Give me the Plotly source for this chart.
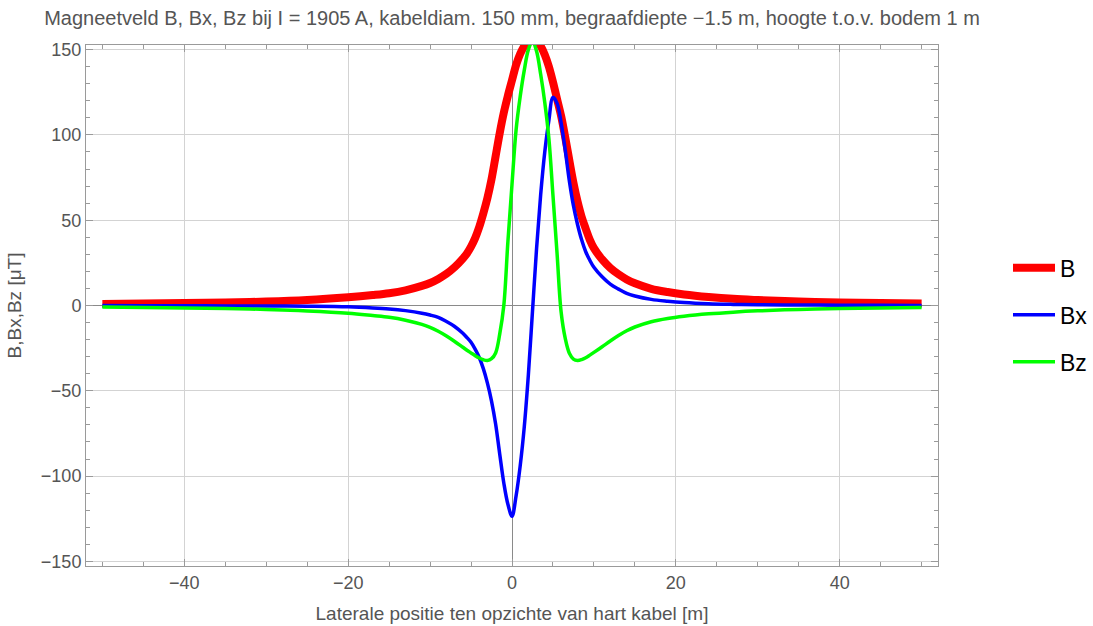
import plotly.graph_objects as go

# Lateral position [m]
x = [-50, -45, -40, -35, -30, -25, -20, -17, -15, -13, -11, -10, -9, -8, -7, -6, -5.5, -5, -4.5, -4,
     -3.5, -3, -2.5, -2, -1.5, -1, -0.5, 0, 0.5, 1, 1.5, 2, 2.5, 3, 3.5, 4, 4.5, 5, 5.5, 6,
     6.5, 7, 7.5, 8, 8.5, 9, 9.5, 10, 11, 12, 13, 14, 15, 17, 19, 21, 24, 27, 30, 35,
     40, 45, 50]

# Field magnitude B [uT]
B = [0.95, 1.15, 1.4, 1.8, 2.3, 3.2, 4.8, 6.1, 7.2, 8.9, 11.5, 13.2, 15.6, 18.6, 22.5, 27.5, 30.5, 34.5, 39.5, 46,
     54, 63, 74, 87.5, 101, 113, 123, 132, 141, 147.5, 152, 154.5, 155, 154.5, 152, 147, 140, 131, 121, 111,
     98.5, 85, 72, 61, 52, 45, 38.5, 33.6, 27, 22, 18.3, 15.3, 13, 9.8, 7.9, 6.5, 5.0, 3.9, 3.2, 2.3,
     1.8, 1.4, 1.15]

# Horizontal component Bx [uT]
Bx = [-0.05, -0.08, -0.15, -0.22, -0.3, -0.45, -0.8, -1.4, -2.0, -3.0, -4.5, -5.6, -7.0, -9.4, -12.3, -16.3, -18.8, -21.6, -25.6, -30.5,
      -37, -45.5, -56, -69.5, -87, -104, -116.5, -123.5, -111.5, -94, -71, -40.5, -3.5, 33.5, 65, 90, 108.5, 122, 118.5, 107,
      91, 73, 58.5, 47.5, 38.5, 31.5, 26.5, 22.4, 16.8, 12.5, 9.6, 7.1, 5.6, 3.6, 2.5, 1.7, 1.0, 0.65, 0.45, 0.3,
      0.18, 0.1, 0.06]

# Vertical component Bz [uT]
Bz = [-0.9, -1.1, -1.4, -1.75, -2.3, -3.2, -4.55, -5.9, -6.9, -8.6, -11.1, -12.8, -15.1, -17.9, -21.1, -24.5, -26.2, -27.8, -29.4, -30.8,
      -31.8, -32.2, -31.2, -27.8, -16.8, 0, 37.5, 71, 103, 122.5, 138, 150, 155, 149, 135.5, 119, 98, 64.5, 30.5, -4,
      -19.3, -28, -31.4, -32.2, -31.7, -30.6, -29.1, -27.5, -24.2, -20.8, -17.6, -14.8, -12.6, -9.5, -7.6, -6.3, -4.9, -3.9, -3.15, -2.3,
      -1.75, -1.4, -1.1]

title_text = "Magneetveld B, Bx, Bz bij I = 1905 A, kabeldiam. 150 mm, begraafdiepte \u22121.5 m, hoogte t.o.v. bodem 1 m"
x_title = "Laterale positie ten opzichte van hart kabel [m]"
y_title = "B,Bx,Bz [\u03bcT]"
x_ticks = [-40, -20, 0, 20, 40]
x_ticklabels = ["\u221240", "\u221220", "0", "20", "40"]
y_ticks = [-150, -100, -50, 0, 50, 100, 150]
y_ticklabels = ["\u2212150", "\u2212100", "\u221250", "0", "50", "100", "150"]

FONT = "Liberation Sans, Arial, sans-serif"
GRAY = "#555555"

fig = go.Figure()
fig.add_trace(go.Scatter(x=x, y=B, name="B", mode="lines", legendgroup="a",
                         line=dict(color="#FF0000", width=8, shape="spline", smoothing=1.0)))
fig.add_trace(go.Scatter(x=x, y=Bx, name="Bx", mode="lines", legendgroup="b",
                         line=dict(color="#0000FF", width=3.5, shape="spline", smoothing=1.0)))
fig.add_trace(go.Scatter(x=x, y=Bz, name="Bz", mode="lines", legendgroup="c",
                         line=dict(color="#00FF00", width=3.5, shape="spline", smoothing=1.0)))

axis_common = dict(
    showline=True, linecolor="#9a9a9a", linewidth=1, mirror="ticks",
    ticks="inside", ticklen=7, tickcolor="#9a9a9a", tickwidth=1,
    showgrid=True, gridcolor="#d3d3d3", gridwidth=1,
    zeroline=True, zerolinecolor="#8a8a8a", zerolinewidth=1,
    tickfont=dict(family=FONT, size=18, color=GRAY),
)

fig.update_layout(
    width=1093, height=626,
    paper_bgcolor="white", plot_bgcolor="white",
    margin=dict(l=86, r=155, t=45, b=60, autoexpand=False),
    title=dict(text=title_text, x=0.5, xref="paper", y=1 - 18 / 626, yref="container",
               yanchor="middle", xanchor="center",
               font=dict(family=FONT, size=20, color=GRAY)),
    xaxis=dict(range=[-52, 52], tickvals=x_ticks, ticktext=x_ticklabels,
               title=dict(text=x_title, font=dict(family=FONT, size=19, color=GRAY), standoff=15),
               minor=dict(ticks="inside", ticklen=4, tickcolor="#9a9a9a", dtick=5, showgrid=False),
               automargin=False, **axis_common),
    yaxis=dict(range=[-152.7, 152.7], tickvals=y_ticks, ticktext=y_ticklabels,
               title=dict(text=y_title, font=dict(family=FONT, size=19, color=GRAY), standoff=14),
               minor=dict(ticks="inside", ticklen=4, tickcolor="#9a9a9a", dtick=10, showgrid=False),
               automargin=False, **axis_common),
    showlegend=True,
    legend=dict(x=(1008 - 86) / 852, y=0.482, xanchor="left", yanchor="middle",
                font=dict(family=FONT, size=23, color="black"),
                itemwidth=42, tracegroupgap=14, bgcolor="rgba(0,0,0,0)"),
)

fig.write_html("out.html", config={"displayModeBar": False},
               post_script="document.body.style.margin='0';")
